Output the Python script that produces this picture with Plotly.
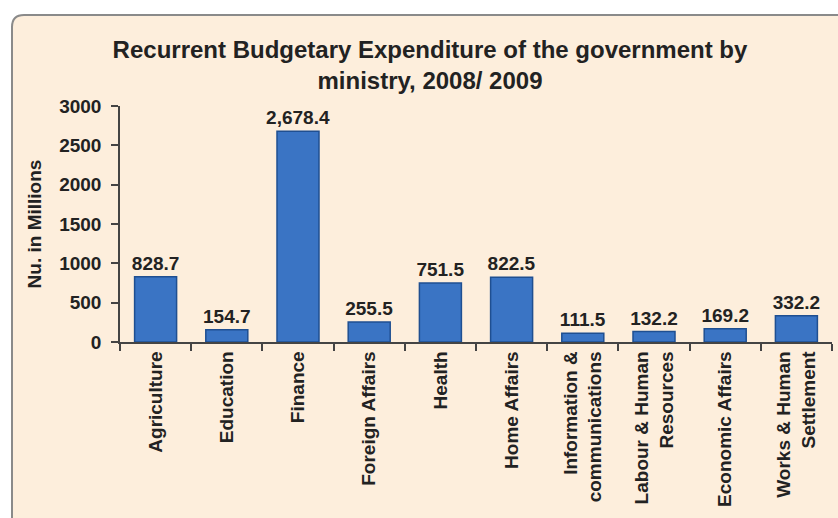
import plotly.graph_objects as go

categories = ["Agriculture", "Education", "Finance", "Foreign Affairs", "Health",
              "Home Affairs", "Information &<br>communications", "Labour & Human<br>Resources",
              "Economic Affairs", "Works & Human<br>Settlement"]
values = [828.7, 154.7, 2678.4, 255.5, 751.5, 822.5, 111.5, 132.2, 169.2, 332.2]
title_text = "Recurrent Budgetary Expenditure of the government by<br>ministry, 2008/ 2009"
y_title = "Nu. in Millions"

W, H = 838, 518
ML, MR, MT, MB = 120, 6, 106, 176
pw, ph = W - ML - MR, H - MT - MB

def px_x(p):
    return (p - ML) / pw

def px_y(p):
    return (H - MB - p) / ph

FONT = "Liberation Sans, Arial, sans-serif"
LBL = 19

fig = go.Figure()
fig.add_trace(go.Bar(
    x=categories, y=values,
    marker=dict(color="#3A74C4", line=dict(color="#1F4F91", width=1.5)),
    texttemplate="%{y:,.1f}", textposition="outside", cliponaxis=False,
    constraintext="none",
    textfont=dict(family=FONT, size=LBL, color="#222222", weight="bold"),
))

# rounded background panel
x0, x1 = px_x(12), px_x(860)
y0, y1 = px_y(15), px_y(540)
rx, ry = 12 / pw, 12 / ph
path = (f"M {x0+rx},{y0} L {x1},{y0} L {x1},{y1} L {x0},{y1} L {x0},{y0-ry} "
        f"Q {x0},{y0} {x0+rx},{y0} Z")

fig.update_layout(
    width=W, height=H, autosize=False,
    margin=dict(l=ML, r=MR, t=MT, b=MB, autoexpand=False),
    paper_bgcolor="white", plot_bgcolor="rgba(0,0,0,0)",
    bargap=0.41, showlegend=False,
    font=dict(family=FONT, color="#222222"),
    title=dict(text=title_text, x=430 / W, xanchor="center", xref="container",
               y=1 - 58 / H, yanchor="top", yref="container",
               font=dict(family=FONT, size=24, color="#222222", weight="bold")),
    shapes=[dict(type="path", path=path, xref="paper", yref="paper", layer="below",
                 fillcolor="#FDEEDC", line=dict(color="#8A8A8A", width=2))],
)
fig.update_xaxes(
    showline=True, linecolor="#444444", linewidth=1.5,
    ticks="outside", ticklen=7, tickcolor="#444444", tickwidth=1.5,
    tickson="boundaries", tickangle=-90,
    tickfont=dict(family=FONT, size=LBL, color="#222222", weight="bold"),
    showgrid=False,
)
fig.update_yaxes(
    range=[0, 3000], dtick=500, tickformat="d",
    showline=True, linecolor="#444444", linewidth=1.5,
    ticks="outside", ticklen=7, tickcolor="#444444", tickwidth=1.5,
    ticklabelstandoff=6,
    showgrid=False, zeroline=False,
    tickfont=dict(family=FONT, size=LBL, color="#222222", weight="bold"),
    title=dict(text=y_title, standoff=13,
               font=dict(family=FONT, size=19, color="#222222", weight="bold")),
)
fig.write_html("out.html", config={"displayModeBar": False},
               post_script="document.body.style.margin='0';document.body.style.padding='0';")
